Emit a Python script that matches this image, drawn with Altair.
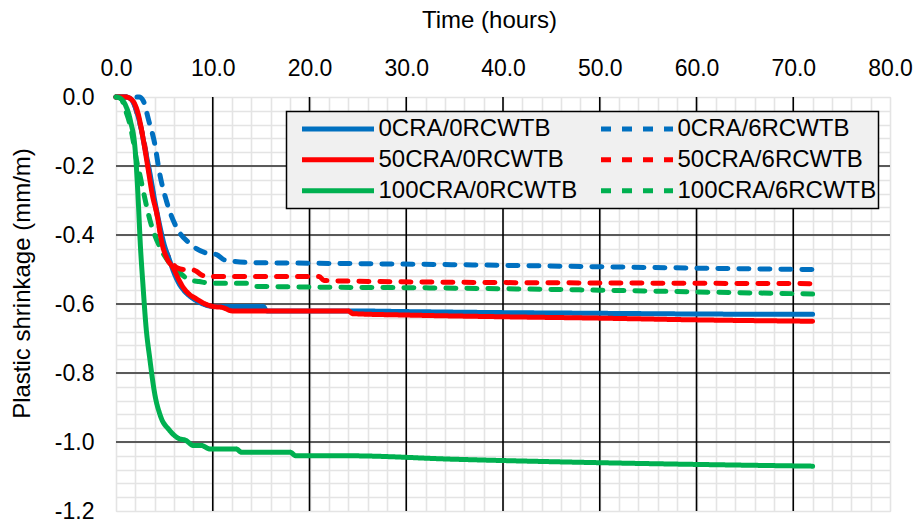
import altair as alt
import pandas as pd

# ---- data ----
# legend order (column-major in a 2-column legend)
series_order = ["0CRA/0RCWTB", "50CRA/0RCWTB", "100CRA/0RCWTB",
                "0CRA/6RCWTB", "50CRA/6RCWTB", "100CRA/6RCWTB"]
series_colors = ["#0070C0", "#FF0000", "#00B050", "#0070C0", "#FF0000", "#00B050"]

t_0cra_0 = [0, 1, 1.5, 2, 2.5, 3, 3.5, 4, 4.5, 5, 5.5, 6, 6.5, 7, 8, 9, 10, 15.2, 15.6, 24, 30, 40, 50, 60, 72]
v_0cra_0 = [0, 0, -0.005, -0.03, -0.08, -0.15, -0.22, -0.3, -0.37, -0.43, -0.47, -0.51, -0.54, -0.56,
            -0.585, -0.6, -0.607, -0.607, -0.62, -0.62, -0.622, -0.625, -0.627, -0.629, -0.63]

t_50cra_0 = [0, 1, 1.7, 2.3, 2.8, 3.3, 3.8, 4.2, 4.8, 5.3, 5.9, 6.5, 6.9, 7.5, 8.3, 9, 10, 11, 12, 24, 24.5,
             30, 40, 50, 60, 72]
v_50cra_0 = [0, 0, -0.01, -0.05, -0.12, -0.205, -0.29, -0.335, -0.43, -0.47, -0.495, -0.53, -0.55, -0.57,
             -0.585, -0.597, -0.607, -0.61, -0.62, -0.62, -0.628, -0.632, -0.637, -0.641, -0.646, -0.65]

t_100cra_0 = [0, 0.5, 1, 1.5, 2, 2.3, 2.5, 2.8, 3.1, 3.5, 4, 4.6, 5.5, 6.5, 7.2, 8, 8.8, 9.7, 12.4, 13,
              18, 18.6, 24, 35, 50, 60, 72]
v_100cra_0 = [0, -0.005, -0.025, -0.07, -0.16, -0.3, -0.42, -0.55, -0.665, -0.76, -0.86, -0.925, -0.965,
              -0.99, -0.995, -1.01, -1.01, -1.02, -1.02, -1.03, -1.03, -1.04, -1.04, -1.05, -1.06, -1.065, -1.07]

t_0cra_6 = [0, 2.4, 2.8, 3.4, 4, 4.5, 5.2, 6.2, 7.6, 9.3, 10.4, 11.2, 14, 21, 35, 50, 60, 72]
v_0cra_6 = [0, 0, -0.01, -0.07, -0.135, -0.22, -0.3, -0.375, -0.424, -0.452, -0.457, -0.472, -0.48,
            -0.482, -0.486, -0.492, -0.496, -0.50]

t_50cra_6 = [0, 1, 1.7, 2.3, 2.8, 3.5, 4.2, 4.8, 5.2, 5.8, 6.3, 7, 7.8, 8.3, 8.8, 9.3, 21, 21.5, 35, 50, 60, 72]
v_50cra_6 = [0, 0, -0.01, -0.06, -0.115, -0.23, -0.335, -0.42, -0.45, -0.48, -0.495, -0.5, -0.5, -0.505,
             -0.515, -0.52, -0.52, -0.532, -0.537, -0.539, -0.54, -0.541]

t_100cra_6 = [0, 0.4, 1, 1.4, 1.8, 2.1, 2.5, 2.8, 3.5, 4.5, 5.5, 6.6, 7.6, 8.6, 10, 13.5, 14.5, 35, 50, 60, 72]
v_100cra_6 = [0, 0, -0.04, -0.075, -0.13, -0.18, -0.23, -0.27, -0.356, -0.433, -0.48, -0.51, -0.53,
              -0.535, -0.54, -0.54, -0.549, -0.554, -0.56, -0.565, -0.571]

x_ticks = list(range(0, 82, 2))                     # minor every 2 h, major every 10 h
y_ticks = [round(-0.04 * k, 2) for k in range(31)]  # minor every 0.04, major every 0.2
major_x = [10, 20, 30, 40, 50, 60, 70]
major_y = [-0.2, -0.4, -0.6, -0.8, -1.0]

# drawing order: dashed first, solid on top, red solid above blue solid
draw = [
    ("0CRA/6RCWTB", t_0cra_6, v_0cra_6),
    ("100CRA/6RCWTB", t_100cra_6, v_100cra_6),
    ("50CRA/6RCWTB", t_50cra_6, v_50cra_6),
    ("0CRA/0RCWTB", t_0cra_0, v_0cra_0),
    ("50CRA/0RCWTB", t_50cra_0, v_50cra_0),
    ("100CRA/0RCWTB", t_100cra_0, v_100cra_0),
]
rows = []
for k, (name, ts, vs) in enumerate(draw):
    for i, (t, v) in enumerate(zip(ts, vs)):
        rows.append({"series": name, "t": t, "v": v, "ord": k, "i": i})
df = pd.DataFrame(rows)

dash_range = [[1, 0] if "/0" in s else [10, 11] for s in series_order]

FONT = "Liberation Sans"
x_scale = alt.Scale(domain=[0, 80], nice=False, zero=False)
y_scale = alt.Scale(domain=[-1.2, 0], nice=False)

x_axis = alt.Axis(
    orient="top", values=x_ticks, title="Time (hours)", titleFontSize=24, titleFontWeight="normal",
    titleColor="black", titleX=373, titleY=-77, titleBaseline="middle",
    labelExpr="datum.value % 10 === 0 ? format(datum.value, '.1f') : ''",
    labelFontSize=23, labelColor="black", labelPadding=17, labelFlush=False, labelOverlap=False,
    ticks=False, domain=False, gridColor="#e4e4e4", gridWidth=1.6,
)
y_axis = alt.Axis(
    values=y_ticks, title="Plastic shrinkage (mm/m)", titleFontSize=24, titleFontWeight="normal",
    titleColor="black", titleX=-94, titleY=186, titleAngle=270, titleBaseline="middle", titleAlign="center",
    labelExpr="abs(datum.value*5 - round(datum.value*5)) < 1e-6 ? replace(format(datum.value, '.1f'), '\u2212', '-') : ''",
    labelFontSize=23, labelColor="black", labelPadding=22, labelOverlap=False,
    ticks=False, domain=False, gridColor="#e4e4e4", gridWidth=1.6,
)

legend = alt.Legend(
    title=None, orient="none", legendX=170.5, legendY=14.5, columns=2,
    symbolType="stroke", symbolSize=5184, symbolStrokeWidth=5, clipHeight=30.5,
    rowPadding=0, columnPadding=10, padding=2, symbolOffset=11,
    labelFontSize=24, labelColor="black", labelOffset=2, labelLimit=400,
    fillColor="#f0f0f0", strokeColor="#000000")

hgrid = alt.Chart(pd.DataFrame({"y": major_y})).mark_rule(color="#5a5a5a", strokeWidth=1.8).encode(
    y=alt.Y("y:Q", scale=y_scale, axis=y_axis)
)
vgrid = alt.Chart(pd.DataFrame({"x": major_x})).mark_rule(color="#000000", strokeWidth=1.6).encode(
    x=alt.X("x:Q", scale=x_scale, axis=x_axis)
)

lines = alt.Chart(df).mark_line(strokeWidth=5, strokeCap="round", strokeJoin="round",
                                interpolate="monotone").encode(
    x=alt.X("t:Q", scale=x_scale, axis=x_axis),
    y=alt.Y("v:Q", scale=y_scale, axis=y_axis),
    color=alt.Color("series:N", scale=alt.Scale(domain=series_order, range=series_colors), legend=legend),
    strokeDash=alt.StrokeDash("series:N", scale=alt.Scale(domain=series_order, range=dash_range),
                              legend=legend),
    detail="ord:O",
    order="i:Q",
)

chart = alt.layer(hgrid, vgrid, lines).properties(
    width=774, height=414,
    autosize=alt.AutoSizeParams(type="none"),
    padding={"left": 116, "top": 97, "right": 27, "bottom": 9},
    background="white",
).configure_view(stroke="#000000", strokeWidth=2.5).configure(
    font=FONT
).configure_legend(strokeWidth=1.5)

chart.save("out.html", embed_options={"renderer": "svg", "actions": False})
